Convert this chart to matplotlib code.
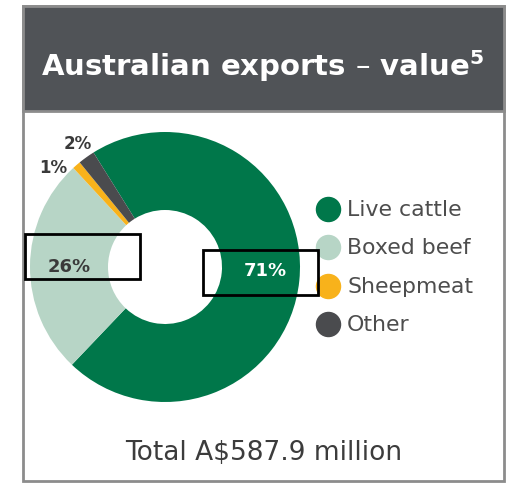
import numpy as np
import matplotlib
matplotlib.use("Agg")
import matplotlib.pyplot as plt
from matplotlib.patches import Rectangle

# Data
categories = ['Live cattle', 'Boxed beef', 'Sheepmeat', 'Other']
shares = [71, 26, 1, 2]
pct_labels = ['71%', '26%', '1%', '2%']
title = r'Australian exports – value$^{\mathbf{5}}$'
footer = 'Total A\\$587.9 million'

colors = ['#00774a', '#b7d5c6', '#f8b21b', '#4a4b4e']
label_colors = ['white', '#3a3a3a', '#3a3a3a', '#3a3a3a']
# (radius, angle offset in degrees, fontsize) per label
label_pos = [(100, 4, 13), (96, 0, 13), (150, 7, 12), (151, -0.5, 12)]

W, H = 522, 485
fig = plt.figure(figsize=(W / 100, H / 100), dpi=100)
ax = fig.add_axes([0, 0, 1, 1])

# card frame + dark header
ax.add_patch(Rectangle((23, H - 482), 481, 475, facecolor='white',
                       edgecolor='#8c8c8c', lw=2, zorder=0))
ax.add_patch(Rectangle((23, H - 112), 481, 105, facecolor='#505357',
                       edgecolor='#8c8c8c', lw=2, zorder=1))
ax.text(263, H - 66, title, color='white', fontsize=21, fontweight='bold',
        ha='center', va='center', zorder=3)

# donut
cx, cy, r_out, r_in = 165, H - 268, 135, 57
wedges, _ = ax.pie(shares, colors=colors, startangle=122, counterclock=False,
                   radius=r_out, center=(cx, cy),
                   wedgeprops=dict(width=r_out - r_in, edgecolor='none'))

for w, txt, col, (rad, off, fs) in zip(wedges, pct_labels, label_colors, label_pos):
    ang = np.deg2rad((w.theta1 + w.theta2) / 2 + off)
    ax.text(cx + rad * np.cos(ang), cy + rad * np.sin(ang), txt, color=col,
            fontsize=fs, fontweight='bold', ha='center', va='center', zorder=4)

# legend drawn as dots + text
leg_y = [H - 210, H - 248, H - 287, H - 325]
for name, col, y in zip(categories, colors, leg_y):
    ax.scatter([328], [y], s=300, color=col, zorder=4)
    ax.text(347, y, name, color='#4d4d4d', fontsize=15.8, ha='left',
            va='center', zorder=4)

ax.text(264, H - 453, footer, color='#3c3c3c', fontsize=19, ha='center',
        va='center', zorder=4)

# black boxes drawn over the chart in the reference
ax.add_patch(Rectangle((25, H - 280), 115, 45, facecolor='none',
                       edgecolor='black', lw=2, zorder=5))
ax.add_patch(Rectangle((203, H - 296), 115, 45, facecolor='none',
                       edgecolor='black', lw=2, zorder=5))

ax.set_xlim(0, W)
ax.set_ylim(0, H)
ax.axis('off')

fig.savefig('out.png', dpi=100, facecolor='white')
